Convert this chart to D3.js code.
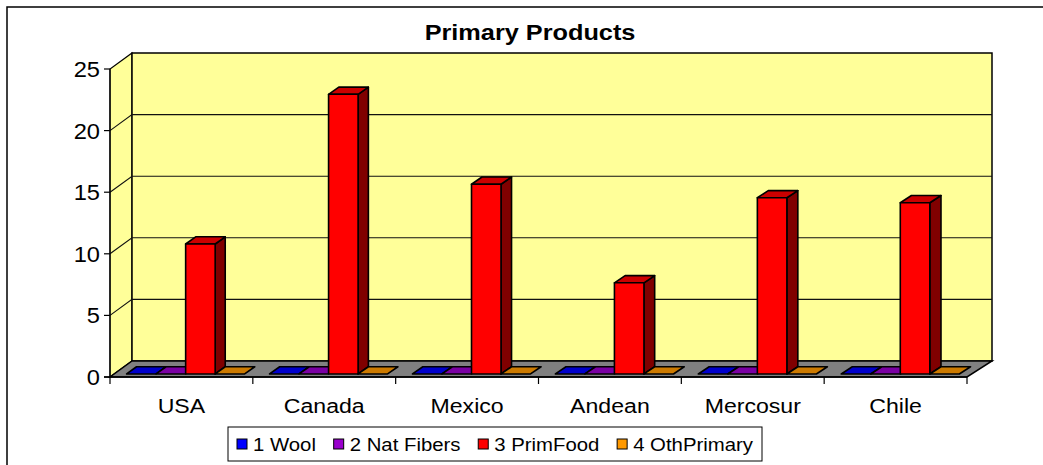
<!DOCTYPE html>
<html>
<head>
<meta charset="utf-8">
<script src="https://cdn.jsdelivr.net/npm/d3@7/dist/d3.min.js"></script>
<style>
  html, body { margin: 0; padding: 0; background: #fff; }
  svg { display: block; font-family: "Liberation Sans", Arial, sans-serif; }
</style>
</head>
<body>
<svg id="chart" width="1043" height="465"></svg>
<script>
const title = "Primary Products";
const categories = ["USA", "Canada", "Mexico", "Andean", "Mercosur", "Chile"];
const seriesNames = ["1 Wool", "2 Nat Fibers", "3 PrimFood", "4 OthPrimary"];
const wool = [0, 0, 0, 0, 0, 0];
const natFibers = [0, 0, 0, 0, 0, 0];
const primFood = [10.55, 22.7, 15.4, 7.4, 14.3, 13.9];
const othPrimary = [0, 0, 0, 0, 0, 0];
const yTicks = [0, 5, 10, 15, 20, 25];
const seriesColors = ["#0000FF", "#9900CC", "#FF0000", "#FF9900"];

const seriesValues = [wool, natFibers, primFood, othPrimary];

const svg = d3.select("#chart");
const SX = 1.1; // horizontal text stretch

// frame
svg.append("rect").attr("x", 7).attr("y", 7).attr("width", 1100).attr("height", 520)
  .attr("fill", "#fff").attr("stroke", "#000").attr("stroke-width", 1.5);

// scales (front plane)
const x = d3.scaleBand().domain(categories).range([110, 967]).paddingInner(0).paddingOuter(0);
const y = d3.scaleLinear().domain([0, 25]).range([377, 69]);
const DY = 16;
function dxAt(xf) { return 22 + 3 * (xf - 110) / 857; }
function P(xf, v, z) { return [xf + z * dxAt(xf), y(v) - z * DY]; }
const line = d3.line();
function poly(pts) { return line(pts) + "Z"; }

const x0 = x.range()[0], x1 = x.range()[1];
const vMax = y.domain()[1];

const walls = svg.append("g");
// left wall
walls.append("path").attr("d", poly([P(x0, 0, 0), P(x0, vMax, 0), P(x0, vMax, 1), P(x0, 0, 1)]))
  .attr("fill", "#FFFF99").attr("stroke", "#000").attr("stroke-width", 1.2);
// back wall
walls.append("path").attr("d", poly([P(x0, 0, 1), P(x0, vMax, 1), P(x1, vMax, 1), P(x1, 0, 1)]))
  .attr("fill", "#FFFF99").attr("stroke", "#000").attr("stroke-width", 1.5);
// gridlines
yTicks.filter(t => t > 0 && t < vMax).forEach(t => {
  walls.append("path").attr("d", line([P(x0, t, 0), P(x0, t, 1), P(x1, t, 1)]))
    .attr("fill", "none").attr("stroke", "#111").attr("stroke-width", 1.1);
});
// floor
walls.append("path").attr("d", poly([P(x0, 0, 0), P(x1, 0, 0), P(x1, 0, 1), P(x0, 0, 1)]))
  .attr("fill", "#808080").attr("stroke", "#000").attr("stroke-width", 1.5);

// y axis
const ax = svg.append("g");
ax.append("line").attr("x1", x0).attr("x2", x0).attr("y1", y(0)).attr("y2", y(vMax))
  .attr("stroke", "#000").attr("stroke-width", 1.2);
yTicks.forEach(t => {
  ax.append("line").attr("x1", x0 - 6).attr("x2", x0).attr("y1", y(t)).attr("y2", y(t))
    .attr("stroke", "#000").attr("stroke-width", 1.2);
  ax.append("text").attr("transform", `translate(${x0 - 10},${y(t) + 8}) scale(${SX},1)`)
    .attr("text-anchor", "end").attr("font-size", 21.5).attr("fill", "#000").text(t);
});
// category ticks
const bounds = categories.map(c => x(c)).concat([x1]);
bounds.forEach(b => {
  ax.append("line").attr("x1", b).attr("x2", b).attr("y1", y(0)).attr("y2", y(0) + 7)
    .attr("stroke", "#000").attr("stroke-width", 1.2);
});
// front floor edge
ax.append("line").attr("x1", x0 - 6).attr("x2", x1).attr("y1", y(0)).attr("y2", y(0))
  .attr("stroke", "#000").attr("stroke-width", 1.5);
// category labels
categories.forEach(c => {
  ax.append("text").attr("transform", `translate(${x(c) + x.bandwidth() / 2},${413}) scale(${SX},1)`)
    .attr("text-anchor", "middle").attr("font-size", 21).attr("fill", "#000").text(c);
});

// bars
const bw = 29.5;
const inner = d3.scaleBand().domain(seriesNames).range([-2 * bw, 2 * bw]);
const z0 = 0.19, z1 = 0.64;
function shade(col, k) { const c = d3.rgb(col); return d3.rgb(c.r * k, c.g * k, c.b * k).formatHex(); }
const bars = svg.append("g");
categories.forEach((c, ci) => {
  const cx = x(c) + x.bandwidth() / 2;
  seriesNames.forEach((s, si) => {
    const v = seriesValues[si][ci];
    const l = cx + inner(s), r = l + inner.bandwidth();
    const col = seriesColors[si];
    const g = bars.append("g").attr("stroke", "#000").attr("stroke-width", 1.6).attr("stroke-linejoin", "round");
    if (v > 0) {
      g.append("path").attr("d", poly([P(r, 0, z0), P(r, v, z0), P(r, v, z1), P(r, 0, z1)]))
        .attr("fill", shade(col, 0.5));
    }
    g.append("path").attr("d", poly([P(l, v, z0), P(r, v, z0), P(r, v, z1), P(l, v, z1)]))
      .attr("fill", shade(col, 0.8));
    if (v > 0) {
      g.append("path").attr("d", poly([P(l, 0, z0), P(r, 0, z0), P(r, v, z0), P(l, v, z0)]))
        .attr("fill", col);
    }
  });
});

// title
svg.append("text").attr("transform", `translate(530,40) scale(1.15,1)`)
  .attr("text-anchor", "middle").attr("font-size", 22).attr("font-weight", "bold")
  .attr("fill", "#000").text(title);

// legend
const lg = svg.append("g");
const box = { x: 228, y: 427, w: 534, h: 34 };
lg.append("rect").attr("x", box.x).attr("y", box.y).attr("width", box.w).attr("height", box.h)
  .attr("fill", "#fff").attr("stroke", "#000").attr("stroke-width", 1);
const items = seriesNames.map((s, i) => {
  const t = lg.append("text").attr("font-size", 18.5).attr("fill", "#000").text(s);
  const w = t.node().getComputedTextLength() * SX;
  return { s, i, t, w: 10 + 6 + w };
});
const pad = 9;
const total = d3.sum(items, d => d.w);
const gap = (box.w - 2 * pad - total) / (items.length - 1);
let cxp = box.x + pad;
items.forEach(d => {
  lg.append("rect").attr("x", cxp).attr("y", box.y + 12).attr("width", 10).attr("height", 10)
    .attr("fill", seriesColors[d.i]).attr("stroke", "#000").attr("stroke-width", 1);
  d.t.attr("transform", `translate(${cxp + 16},${box.y + 24}) scale(${SX},1)`);
  cxp += d.w + gap;
});
</script>
</body>
</html>
